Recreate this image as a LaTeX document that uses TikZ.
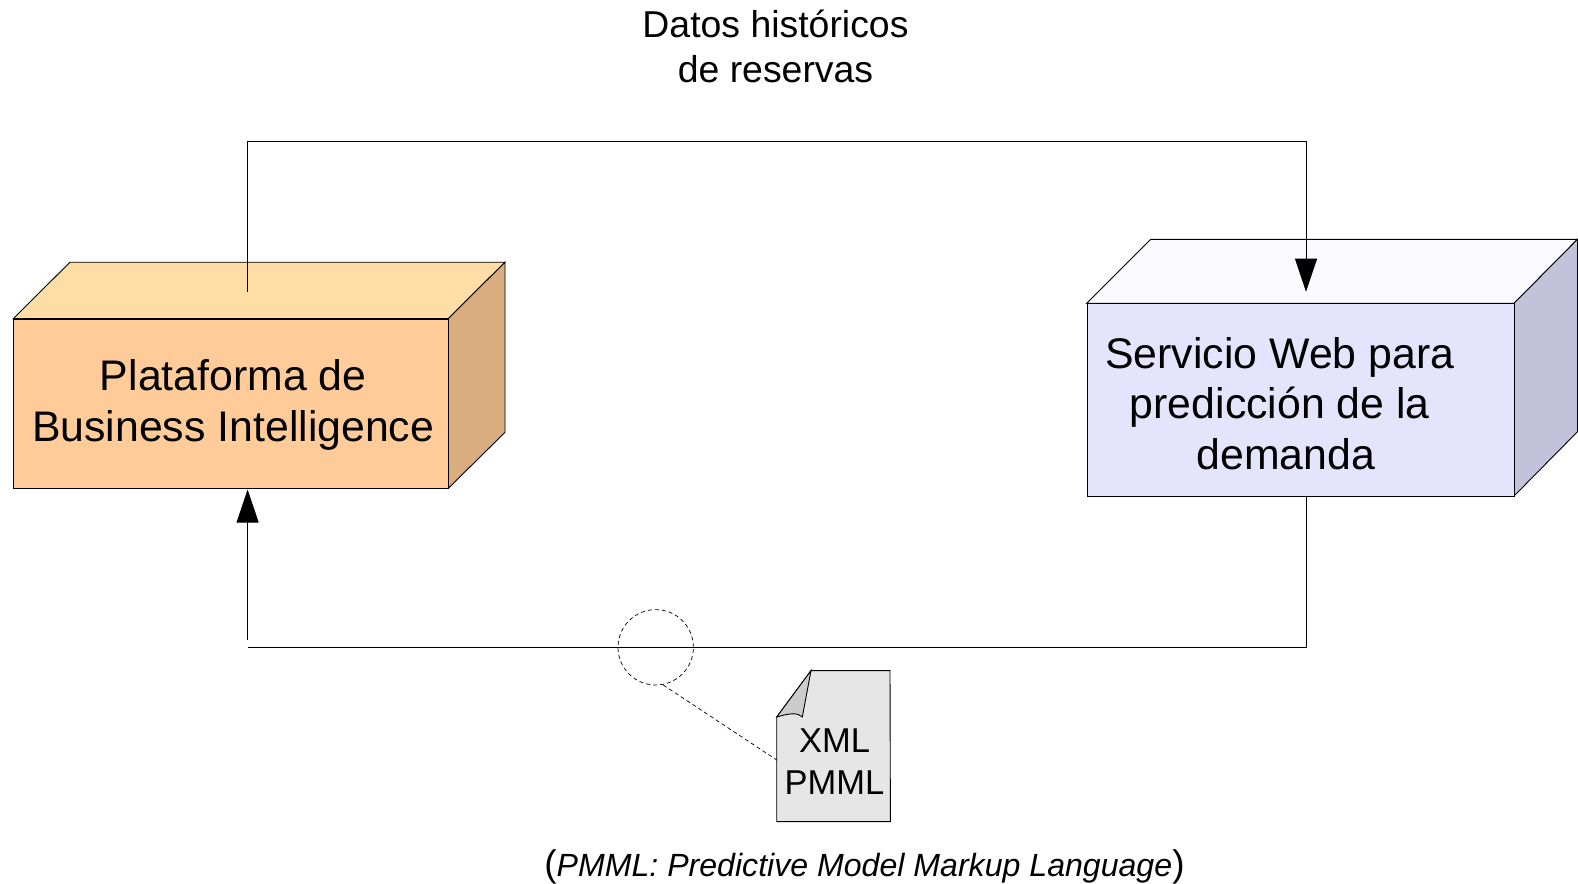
\documentclass[tikz,border=0pt]{standalone}
\usepackage{fontspec}
\setmainfont{Liberation Sans}
\usetikzlibrary{arrows.meta}
\definecolor{orfront}{HTML}{FFCC99}
\definecolor{ortop}{HTML}{FFDEA6}
\definecolor{orside}{HTML}{D9AD80}
\definecolor{blfront}{HTML}{E4E4FC}
\definecolor{bltop}{HTML}{FAFAFF}
\definecolor{blside}{HTML}{C2C3DA}
\definecolor{docfill}{HTML}{E6E6E6}
\definecolor{foldfill}{HTML}{CCCCCC}
\tikzset{
  x=1pt,y=-1pt,
  edge/.style={draw=black,line width=0.9pt,line join=miter},
  conn/.style={draw=black,line width=0.9pt},
  head/.style={-{Triangle[length=33pt,width=22pt]}},
  thin dash/.style={draw=black,line width=0.7pt,dash pattern=on 4pt off 3pt},
  label/.style={font=\fontsize{37.4}{44.5}\selectfont,inner sep=0pt,align=center,text=black},
  boxlabel/.style={font=\fontsize{42.8}{50.5}\selectfont,inner sep=0pt,align=center,text=black},
  doclabel/.style={font=\fontsize{34.5}{42}\selectfont,inner sep=0pt,align=center,text=black},
  notelabel/.style={font=\fontsize{37}{40}\selectfont,inner sep=0pt,text=black},
}
\begin{document}
\begin{tikzpicture}
\useasboundingbox (0,0) rectangle (1578,883);
% Plataforma box
\path[edge,fill=ortop] (13.3,318.6) -- (70,262.2) -- (505,262.2) -- (448.3,318.6) -- cycle;
\path[edge,fill=orside] (448.3,318.6) -- (505,262.2) -- (505,432.3) -- (448.3,488.3) -- cycle;
\node[draw=black,line width=0.9pt,fill=orfront,minimum width=435pt,minimum height=169.7pt,inner sep=0pt,anchor=north west] (bi) at (13.3,318.6) {};
\node[boxlabel] (bitext) at (233.2,405) {Plataforma de\\Business Intelligence};
% Servicio box
\path[edge,fill=bltop] (1086.7,303.3) -- (1150.7,239.3) -- (1577.5,239.3) -- (1514,303.3) -- cycle;
\path[edge,fill=blside] (1514,303.3) -- (1577.5,239.3) -- (1577.5,431.7) -- (1514,496) -- cycle;
\node[draw=black,line width=0.9pt,fill=blfront,minimum width=427.3pt,minimum height=192.7pt,inner sep=0pt,anchor=north west] (ws) at (1086.7,303.3) {};
\node[boxlabel] (wstext) at (1279.8,403.2) {Servicio Web para\\predicción de la\\\hspace*{12pt}demanda};
% connectors
\coordinate (a0) at (247.6,291.7);
\coordinate (a1) at (247.6,141);
\coordinate (a2) at (1306,141);
\coordinate (a3) at (1306,291.7);
\draw[conn,head] (a0) -- (a1) -- (a2) -- (a3);
\coordinate (b0) at (1306,496);
\coordinate (b1) at (1306,647.3);
\coordinate (b2) at (247.6,647.3);
\draw[conn] (b0) -- (b1) -- (b2);
\coordinate (c0) at (247.6,640);
\coordinate (c1) at (247.6,489.5);
\draw[conn,head] (c0) -- (c1);
% circle and document
\node[circle,thin dash,minimum size=75.4pt,inner sep=0pt] (ring) at (655.7,647.3) {};
\path[edge,fill=docfill] (776.7,717) -- (811,670.6) -- (890,670.6) -- (890.4,821.6) -- (776.7,821.6) -- cycle;
\path[edge,fill=foldfill] (776.7,717) -- (811,670.6) -- (802.3,717) .. controls (798,712.5) and (790,713) .. cycle;
\coordinate (docedge) at (776.7,760);
\coordinate (ringedge) at (663.3,685);
\draw[thin dash] (ringedge) -- (docedge);
\node[doclabel] (doctext) at (834.5,761.4) {XML\\PMML};
% texts
\node[label] (title) at (775.5,46.5) {Datos históricos\\de reservas};
\node[notelabel] (note) at (864.5,866.5) {(\textit{\fontsize{32.1}{40}\selectfont PMML: Predictive Model Markup Language})};
\end{tikzpicture}
\end{document}
